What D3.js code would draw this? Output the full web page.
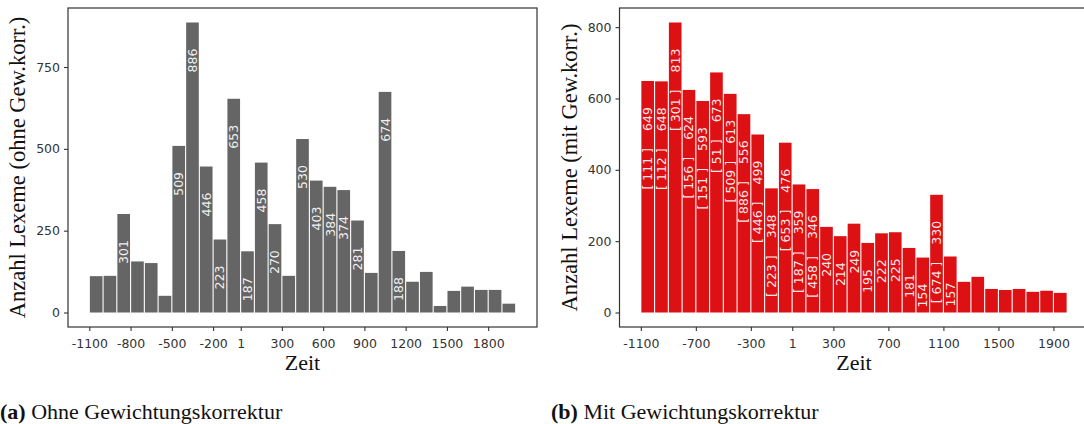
<!DOCTYPE html>
<html>
<head>
<meta charset="utf-8">
<script src="https://cdn.jsdelivr.net/npm/d3@7"></script>
<style>
  body { margin: 0; background: #fff; }
  svg { display: block; }
</style>
</head>
<body>
<svg id="chart" width="1084" height="424"></svg>
<script>
//Bins: start year of each 100-year period
var years = [-1100, -1000, -900, -800, -700, -600, -500, -400, -300, -200, -100, 0, 100, 200, 300,
             400, 500, 600, 700, 800, 900, 1000, 1100, 1200, 1300, 1400, 1500, 1600, 1700, 1800, 1900];

//(a) without weighting correction
var countsRaw = [111, 112, 301, 156, 151, 51, 509, 886, 446, 223, 653, 187, 458, 270, 112,
                 530, 403, 384, 374, 281, 121, 674, 188, 94, 124, 20, 66, 79, 69, 69, 27];
var labelsRaw = [null, null, 301, null, null, null, 509, 886, 446, 223, 653, 187, 458, 270, null,
                 530, 403, 384, 374, 281, null, 674, 188, null, null, null, null, null, null, null, null];

//(b) with weighting correction
var countsWeighted = [649, 648, 813, 624, 593, 673, 613, 556, 499, 348, 476, 359, 346, 240, 214,
                      249, 195, 222, 225, 181, 154, 330, 157, 86, 100, 66, 63, 66, 58, 61, 55];
var labelsWeighted = [649, 648, 813, 624, 593, 673, 613, 556, 499, 348, 476, 359, 346, 240, 214,
                      249, 195, 222, 225, 181, 154, 330, 157, null, null, null, null, null, null, null, null];
var bracketsWeighted = [111, 112, 301, 156, 151, 51, 509, 886, 446, 223, 653, 187, 458, null, null,
                        null, null, null, null, null, null, 674, null, null, null, null, null, null, null, null, null];

//Tick labels
var xTicksRaw = [-1100, -800, -500, -200, 1, 300, 600, 900, 1200, 1500, 1800];
var xTicksWeighted = [-1100, -700, -300, 1, 300, 700, 1100, 1500, 1900];
var yTicksRaw = [0, 250, 500, 750];
var yTicksWeighted = [0, 200, 400, 600, 800];

var svg = d3.select("#chart");
var serif = "'Liberation Serif', 'DejaVu Serif', serif";
var sans = "'DejaVu Sans', sans-serif";

function drawPanel(o) {
  var left = o.left, right = o.left + 469, top = 8, bottom = 327;
  var ymax = d3.max(o.values);

  //ggplot-like 5% expansion
  var x = d3.scaleLinear().domain([-1255, 2155]).range([left, right]);
  var y = d3.scaleLinear().domain([-0.05 * ymax, 1.05 * ymax]).range([bottom, top]);

  var g = svg.append("g");

  //Bars
  g.selectAll("rect.bar")
    .data(years)
    .enter()
    .append("rect")
    .attr("class", "bar")
    .attr("x", function (d) { return x(d + 4); })
    .attr("width", function (d) { return x(d + 96) - x(d + 4); })
    .attr("y", function (d, i) { return y(o.values[i]); })
    .attr("height", function (d, i) { return y(0) - y(o.values[i]); })
    .attr("fill", o.colour);

  //Value labels
  g.selectAll("text.val")
    .data(years)
    .enter()
    .filter(function (d, i) { return o.labels[i] != null; })
    .append("text")
    .attr("class", "val")
    .attr("transform", function (d) {
      var i = years.indexOf(d);
      return "translate(" + x(d + 50) + "," + (y(o.values[i]) + 38) + ") rotate(-90)";
    })
    .attr("text-anchor", "middle")
    .attr("dominant-baseline", "central")
    .style("font-family", sans)
    .style("font-size", "12.5px")
    .style("fill", "#fff")
    .style("fill-opacity", 0.92)
    .text(function (d) { return o.labels[years.indexOf(d)]; });

  //Bracketed raw counts
  if (o.brackets) {
    g.selectAll("text.br")
      .data(years)
      .enter()
      .filter(function (d, i) { return o.brackets[i] != null; })
      .append("text")
      .attr("class", "br")
      .attr("transform", function (d) {
        var i = years.indexOf(d);
        return "translate(" + x(d + 50) + "," + (y(o.values[i]) + 67) + ") rotate(-90)";
      })
      .attr("text-anchor", "end")
      .attr("dominant-baseline", "central")
      .style("font-family", sans)
      .style("font-size", "12.5px")
      .style("fill", "#fff")
      .style("fill-opacity", 0.92)
      .text(function (d) { return "[ " + o.brackets[years.indexOf(d)] + " ]"; });
  }

  //Axes
  var xAxis = g.append("g")
    .attr("transform", "translate(0," + bottom + ")")
    .call(d3.axisBottom(x).tickValues(o.xTicks).tickSize(4).tickPadding(8)
      .tickFormat(function (d) { return String(d); }));
  var yAxis = g.append("g")
    .attr("transform", "translate(" + left + ",0)")
    .call(d3.axisLeft(y).tickValues(o.yTicks).tickSize(4).tickPadding(4)
      .tickFormat(function (d) { return String(d); }));
  [xAxis, yAxis].forEach(function (a) {
    a.select(".domain").remove();
    a.selectAll("line").attr("stroke", "#333").attr("stroke-width", 1.1);
    a.selectAll("text")
      .style("font-family", sans)
      .style("font-size", "12.5px")
      .style("fill", "#333");
  });

  //Panel border
  g.append("rect")
    .attr("x", left).attr("y", top)
    .attr("width", right - left).attr("height", bottom - top)
    .attr("fill", "none")
    .attr("stroke", "#333")
    .attr("stroke-width", 1.2);

  //Axis titles
  g.append("text")
    .attr("x", (left + right) / 2)
    .attr("y", 370)
    .attr("text-anchor", "middle")
    .style("font-family", serif)
    .style("font-size", "22px")
    .style("fill", "#111")
    .text("Zeit");
  g.append("text")
    .attr("transform", "translate(" + (left - 43) + "," + ((top + bottom) / 2) + ") rotate(-90)")
    .attr("text-anchor", "middle")
    .style("font-family", serif)
    .style("font-size", "22.5px")
    .style("fill", "#111")
    .text(o.yLabel);

  //Caption
  var cap = svg.append("text")
    .attr("x", o.capX)
    .attr("y", 419)
    .style("font-family", serif)
    .style("font-size", "22px")
    .style("fill", "#111");
  cap.append("tspan").style("font-weight", "bold").text(o.capTag);
  cap.append("tspan").text(" " + o.caption);
}

drawPanel({
  left: 68, values: countsRaw, labels: labelsRaw, colour: "#656565",
  xTicks: xTicksRaw, yTicks: yTicksRaw,
  yLabel: "Anzahl Lexeme (ohne Gew.korr.)",
  capX: 0, capTag: "(a)", caption: "Ohne Gewichtungskorrektur"
});
drawPanel({
  left: 619.5, values: countsWeighted, labels: labelsWeighted, brackets: bracketsWeighted, colour: "#dd1014",
  xTicks: xTicksWeighted, yTicks: yTicksWeighted,
  yLabel: "Anzahl Lexeme (mit Gew.korr.)",
  capX: 551, capTag: "(b)", caption: "Mit Gewichtungskorrektur"
});
</script>
</body>
</html>
